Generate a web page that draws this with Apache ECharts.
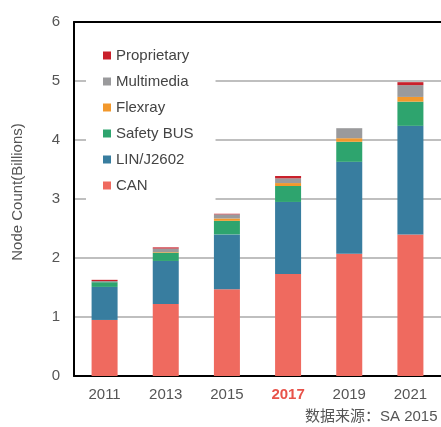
<!DOCTYPE html>
<html>
<head>
<meta charset="utf-8">
<script src="https://cdn.jsdelivr.net/npm/echarts@6/dist/echarts.min.js"></script>
<style>
html,body{margin:0;padding:0;background:#fff;}
#chart{width:441px;height:427px;}
</style>
</head>
<body>
<div id="chart"></div>
<script>
var years = ['2011', '2013', '2015', '2017', '2019', '2021'];
var canVals = [0.95, 1.22, 1.47, 1.73, 2.07, 2.40];
var linVals = [0.56, 0.73, 0.93, 1.22, 1.56, 1.84];
var safetyVals = [0.08, 0.14, 0.23, 0.27, 0.34, 0.41];
var flexrayVals = [0.00, 0.01, 0.04, 0.05, 0.06, 0.08];
var multimediaVals = [0.02, 0.06, 0.07, 0.08, 0.17, 0.20];
var proprietaryVals = [0.02, 0.02, 0.01, 0.04, 0.00, 0.05];
var yTicks = [0, 1, 2, 3, 4, 5, 6];
var highlightYear = '2017';
var sourceText = '数据来源：SA 2015';
var yName = 'Node Count(Billions)';

var FONT = '"Liberation Sans", Arial, "Noto Sans CJK SC", sans-serif';
var chart = echarts.init(document.getElementById('chart'), null, {renderer: 'canvas'});

function mk(name, data, color) {
  return {
    name: name, type: 'bar', stack: 'total', data: data,
    barWidth: 26, itemStyle: {color: color},
    emphasis: {disabled: true}
  };
}

chart.setOption({
  animation: false,
  backgroundColor: '#fff',
  textStyle: {fontFamily: FONT},
  grid: {left: 74, right: -5, top: 22, bottom: 51, containLabel: false},
  legend: {
    orient: 'vertical',
    left: 86, top: 38,
    backgroundColor: '#fff',
    padding: [10, 22, 14, 17],
    itemWidth: 8, itemHeight: 8, itemGap: 11,
    icon: 'rect',
    textStyle: {fontSize: 15, color: '#444', fontFamily: FONT},
    data: ['Proprietary', 'Multimedia', 'Flexray', 'Safety BUS', 'LIN/J2602', 'CAN']
  },
  graphic: [{
    type: 'text', left: 305, top: 409,
    style: {text: sourceText, fontSize: 15, fill: '#555', fontFamily: FONT}
  }],
  xAxis: [{
    type: 'category', data: years,
    axisLine: {lineStyle: {color: '#000', width: 2}},
    axisTick: {show: false},
    axisLabel: {
      interval: 0,
      margin: 11, fontSize: 15, color: '#555',
      formatter: function (v) { return v === highlightYear ? '{h|' + v + '}' : v; },
      rich: {h: {color: '#e8534a', fontWeight: 'bold', fontSize: 15, fontFamily: FONT}}
    }
  }, {
    type: 'category', data: years, position: 'top',
    axisLine: {show: true, lineStyle: {color: '#000', width: 2}},
    axisTick: {show: false}, axisLabel: {show: false}
  }],
  yAxis: {
    type: 'value', min: 0, max: 6, interval: 1,
    name: yName, nameLocation: 'middle', nameGap: 49,
    nameTextStyle: {fontSize: 15, color: '#555', fontFamily: FONT, padding: [0, 0, 0, 14]},
    axisLine: {show: true, lineStyle: {color: '#000', width: 2}},
    axisTick: {show: false},
    axisLabel: {
      margin: 14, fontSize: 15, color: '#555', padding: [0, 0, 8, 0],
      formatter: function (v) { return yTicks.indexOf(v) >= 0 ? String(v) : ''; }
    },
    splitLine: {lineStyle: {color: '#aaa', width: 1.5}}
  },
  series: [
    mk('CAN', canVals, '#ef6a5f'),
    mk('LIN/J2602', linVals, '#387d9f'),
    mk('Safety BUS', safetyVals, '#2ea46e'),
    mk('Flexray', flexrayVals, '#f2982c'),
    mk('Multimedia', multimediaVals, '#9a9a9c'),
    mk('Proprietary', proprietaryVals, '#c9202b')
  ]
});
</script>
</body>
</html>
